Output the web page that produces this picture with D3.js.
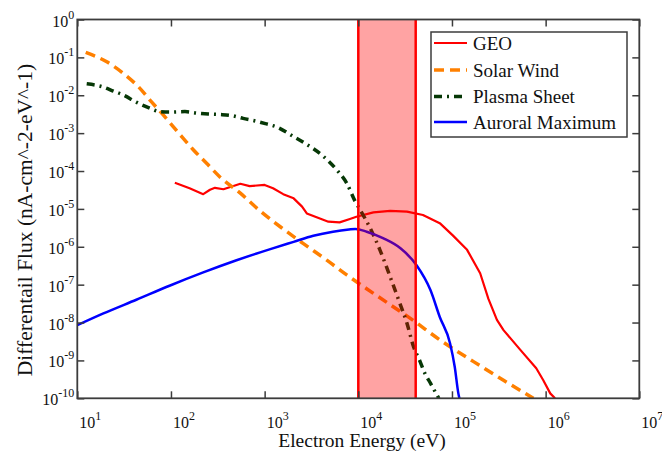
<!DOCTYPE html>
<html>
<head>
<meta charset="utf-8">
<script src="https://cdn.jsdelivr.net/npm/d3@7"></script>
<style>
  html, body { margin: 0; padding: 0; background: #fff; }
  svg { display: block; }
</style>
</head>
<body>
<svg id="chart" width="662" height="456" font-family="'Liberation Serif', 'Times New Roman', serif"></svg>
<script>
// Electron differential flux spectra by environment
const geoEnergy = [110, 158, 221, 261, 295, 363, 447, 550, 692, 1000, 1230, 1580, 2040, 2510, 2820, 3590, 4790, 6310, 8130, 9550, 14500, 21900, 33100, 49000, 74100, 102000, 145000, 200000, 245000, 302000, 355000, 537000, 794000, 944000, 1120000, 1260000];
const geoFlux = [4.9e-5, 3.5e-5, 2.45e-5, 3.2e-5, 3.6e-5, 3.3e-5, 3.9e-5, 4.6e-5, 4.0e-5, 4.3e-5, 3.5e-5, 2.45e-5, 1.9e-5, 1.15e-5, 7.6e-6, 6.0e-6, 4.6e-6, 4.4e-6, 5.4e-6, 6.2e-6, 8.1e-6, 8.9e-6, 8.5e-6, 6.9e-6, 4.2e-6, 2.0e-6, 8.3e-7, 2.0e-7, 4.2e-8, 1.17e-8, 6.3e-9, 1.9e-9, 6.2e-10, 3.0e-10, 1.35e-10, 1.0e-10];

const solarEnergy = [12.3, 20.4, 30.9, 44.7, 61.7, 89, 126, 174, 240, 331, 550, 890, 1580, 2570, 4570, 7590, 14500, 38900, 74100, 170000, 355000, 741000];
const solarFlux = [0.135, 0.0776, 0.038, 0.017, 0.0068, 0.00245, 8.9e-4, 3.6e-4, 1.6e-4, 7.1e-5, 2.6e-5, 8.9e-6, 2.95e-6, 1.23e-6, 4.5e-7, 1.78e-7, 5.9e-8, 1.12e-8, 3.5e-9, 9.3e-10, 3.0e-10, 1.0e-10];

const plasmaEnergy = [12.6, 18.2, 24.3, 30.9, 43, 57.5, 76, 98, 141, 188, 251, 331, 447, 589, 794, 1020, 1350, 2040, 2690, 4270, 5890, 7520, 9230, 10500, 13300, 17000, 21900, 26900, 33100, 38900, 45700, 51300, 58900, 70800, 72400];
const plasmaFlux = [0.020, 0.017, 0.0129, 0.0102, 0.0065, 0.0047, 0.0037, 0.0036, 0.0037, 0.0034, 0.0032, 0.0031, 0.0029, 0.00245, 0.0021, 0.00178, 0.00145, 8.1e-4, 5.4e-4, 2.4e-4, 1.07e-4, 4.8e-5, 1.6e-5, 9.3e-6, 3.2e-6, 8.3e-7, 1.6e-7, 4.0e-8, 9.5e-9, 2.3e-9, 9.3e-10, 4.6e-10, 2.5e-10, 1.1e-10, 1.0e-10];

const auroralEnergy = [10, 19, 42.7, 98, 221, 501, 1150, 2040, 3310, 5370, 7940, 9330, 12300, 18600, 28200, 41700, 58900, 74100, 95500, 107000, 117000, 120000];
const auroralFlux = [8.5e-9, 1.74e-8, 4.0e-8, 9.5e-8, 2.1e-7, 4.4e-7, 8.7e-7, 1.35e-6, 1.95e-6, 2.5e-6, 2.85e-6, 2.95e-6, 2.5e-6, 1.66e-6, 9.1e-7, 3.3e-7, 7.2e-8, 1.4e-8, 2.8e-9, 6.8e-10, 1.35e-10, 1.0e-10];

// Highlighted energy band (eV)
const bandRange = [1.0e4, 4.1e4];

const xTickExps = [1, 2, 3, 4, 5, 6, 7];
const yTickExps = [0, -1, -2, -3, -4, -5, -6, -7, -8, -9, -10];

const seriesNames = ["GEO", "Solar Wind", "Plasma Sheet", "Auroral Maximum"];
const seriesColors = ["#ff0000", "#ff8000", "#063806", "#0000ff"];

const series = [
  { name: seriesNames[0], e: geoEnergy, f: geoFlux, color: seriesColors[0], width: 2.2, dash: null, curve: d3.curveLinear },
  { name: seriesNames[1], e: solarEnergy, f: solarFlux, color: seriesColors[1], width: 3.5, dash: "10,6", curve: d3.curveMonotoneX },
  { name: seriesNames[2], e: plasmaEnergy, f: plasmaFlux, color: seriesColors[2], width: 3.5, dash: "8,5,2,5", curve: d3.curveMonotoneX },
  { name: seriesNames[3], e: auroralEnergy, f: auroralFlux, color: seriesColors[3], width: 2.5, dash: null, curve: d3.curveMonotoneX }
];

const L = 77.3, R = 639.3, T = 19.5, B = 398.3;
const svg = d3.select("#chart");
const textColor = "#111";
const serif = "'Liberation Serif', 'Times New Roman', serif";

const x = d3.scaleLog().domain([1e1, 1e7]).range([L, R]);
const y = d3.scaleLog().domain([1e-10, 1]).range([B, T]);

svg.append("defs").append("clipPath").attr("id", "plotClip")
  .append("rect").attr("x", L).attr("y", T).attr("width", R - L).attr("height", B - T);

const plot = svg.append("g").attr("clip-path", "url(#plotClip)");

// curves
series.forEach(s => {
  const pts = s.e.map((e, i) => [e, s.f[i]]);
  const line = d3.line().x(d => x(d[0])).y(d => y(d[1])).curve(s.curve);
  plot.append("path")
    .attr("d", line(pts))
    .attr("fill", "none")
    .attr("stroke", s.color)
    .attr("stroke-width", s.width)
    .attr("stroke-dasharray", s.dash)
    .attr("stroke-linejoin", "round");
});

// translucent energy band over the curves
plot.append("rect")
  .attr("x", x(bandRange[0])).attr("y", T)
  .attr("width", x(bandRange[1]) - x(bandRange[0])).attr("height", B - T)
  .attr("fill", "#ff0000").attr("fill-opacity", 0.36);
bandRange.forEach(v => {
  plot.append("line")
    .attr("x1", x(v)).attr("x2", x(v)).attr("y1", T).attr("y2", B)
    .attr("stroke", "#ff0000").attr("stroke-width", 2.5);
});

// axes: ticks inward on all four sides
const axisColor = "#3c3c3c";
const tickLen = 7;
const bottomAxis = d3.axisBottom(x).tickValues(xTickExps.map(p => Math.pow(10, p))).tickSize(-tickLen).tickFormat("");
const topAxis = d3.axisTop(x).tickValues(xTickExps.map(p => Math.pow(10, p))).tickSize(-tickLen).tickFormat("");
const leftAxis = d3.axisLeft(y).tickValues(yTickExps.map(p => Math.pow(10, p))).tickSize(-tickLen).tickFormat("");
const rightAxis = d3.axisRight(y).tickValues(yTickExps.map(p => Math.pow(10, p))).tickSize(-tickLen).tickFormat("");

[[bottomAxis, `translate(0,${B})`], [topAxis, `translate(0,${T})`],
 [leftAxis, `translate(${L},0)`], [rightAxis, `translate(${R},0)`]].forEach(([ax, tr]) => {
  const g = svg.append("g").attr("transform", tr).call(ax);
  g.select(".domain").remove();
  g.selectAll(".tick line").attr("stroke", axisColor).attr("stroke-width", 1.5);
});

svg.append("rect")
  .attr("x", L).attr("y", T).attr("width", R - L).attr("height", B - T)
  .attr("fill", "none").attr("stroke", axisColor).attr("stroke-width", 1.8);

// tick labels as 10 with superscript exponent
function powerLabel(g, exp, anchor) {
  const t = g.append("text").attr("text-anchor", anchor).attr("font-size", 16)
    .attr("fill", textColor)
    .attr("font-family", serif);
  t.append("tspan").text("10");
  t.append("tspan").attr("dy", -8).attr("font-size", 12).text(String(exp));
  return t;
}
xTickExps.forEach(p => {
  const g = svg.append("g").attr("transform", `translate(${x(Math.pow(10, p)) + 2},${428})`);
  powerLabel(g, p, "start");
});
yTickExps.forEach(p => {
  const g = svg.append("g").attr("transform", `translate(${L - 3},${y(Math.pow(10, p)) + 7})`);
  powerLabel(g, p, "end");
});

// axis titles
svg.append("text")
  .attr("x", 362).attr("y", 447)
  .attr("text-anchor", "middle").attr("font-size", 19.5)
  .attr("fill", textColor)
  .attr("font-family", serif)
  .text("Electron Energy (eV)");
svg.append("text")
  .attr("transform", `translate(32,220) rotate(-90)`)
  .attr("text-anchor", "middle").attr("font-size", 21.5)
  .attr("fill", textColor)
  .attr("font-family", serif)
  .text("Differentail Flux (nA-cm^-2-eV^-1)");

// legend
const lg = svg.append("g");
lg.append("rect")
  .attr("x", 431).attr("y", 32).attr("width", 196).attr("height", 105)
  .attr("fill", "#fff").attr("stroke", axisColor).attr("stroke-width", 1.5);
const legendY = [43, 70, 96.5, 122];
series.forEach((s, i) => {
  lg.append("line")
    .attr("x1", 434).attr("x2", 467).attr("y1", legendY[i]).attr("y2", legendY[i])
    .attr("stroke", s.color).attr("stroke-width", s.width)
    .attr("stroke-dasharray", s.dash);
  lg.append("text")
    .attr("x", 473).attr("y", legendY[i] + 6.5)
    .attr("font-size", 19)
    .attr("fill", textColor)
    .attr("font-family", serif)
    .text(s.name);
});
</script>
</body>
</html>
